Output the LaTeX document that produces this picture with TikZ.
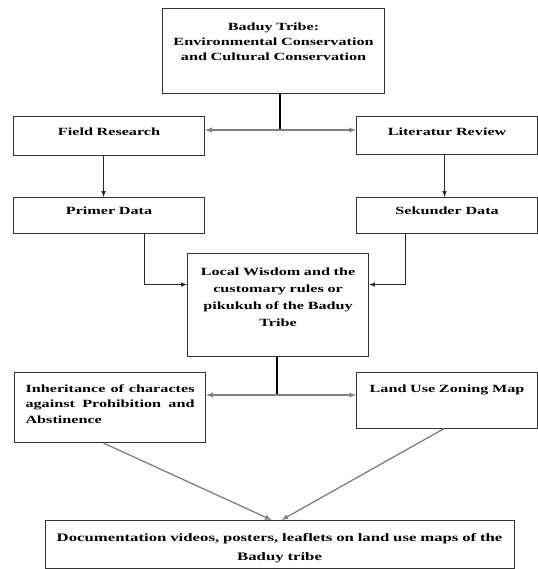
\documentclass[tikz,border=0pt]{standalone}
\usepackage{fontspec}
\setmainfont{Liberation Serif}[FakeStretch=1.47]
\usepackage{tikz}
\usetikzlibrary{calc, positioning}

\begin{document}
\begin{tikzpicture}[>=latex, x=1pt, y=-1pt,
    box/.style={draw=black!80, line width=1.1pt, anchor=north west, align=center,
        inner xsep=6pt, inner ysep=0pt, font=\bfseries\fontsize{11}{16}\selectfont},
    arrow/.style={draw=black!85, line width=1pt},
    link/.style={draw=black!50, line width=1.3pt},
    stem/.style={draw=black, line width=1.4pt}]
    \useasboundingbox (0,0) rectangle (537,569);

    % Các hộp
    \node[box, text width=212pt, inner xsep=5pt, text height=21.5pt, text depth=63.5pt,
        font=\bfseries\fontsize{11}{15}\selectfont] (tribe) at (162,8)
        {Baduy Tribe:\\ Environmental Conservation\\ and Cultural Conservation};
    \node[box, text width=179pt, text height=18.5pt, text depth=20.5pt] (field) at (13,116)
        {Field Research};
    \node[box, text width=169pt, text height=18.5pt, text depth=19.5pt] (lit) at (356,116)
        {Literatur Review};
    \node[box, text width=179pt, text height=16.5pt, text depth=19.5pt] (primer) at (13,197)
        {Primer Data};
    \node[box, text width=169pt, text height=16.5pt, text depth=19.5pt] (sek) at (356,197)
        {Sekunder Data};
    \node[box, text width=169pt, text height=21.5pt, text depth=81.5pt,
        font=\bfseries\fontsize{11}{17}\selectfont] (local) at (187,253)
        {Local Wisdom and the\\ customary rules or\\ pikukuh of the Baduy\\ Tribe};
    \node[box, text width=169pt, inner xsep=11pt, align=justify, text height=19.5pt, text depth=50.5pt,
        font=\bfseries\fontsize{11}{15.5}\selectfont] (inh) at (14,372)
        {Inheritance of charactes\linebreak against Prohibition and\linebreak Abstinence};
    \node[box, text width=169pt, text height=19.5pt, text depth=36pt] (land) at (356,372)
        {Land Use Zoning Map};
    \node[box, text width=457pt, text height=20.5pt, text depth=27.5pt,
        font=\bfseries\fontsize{11.4}{19}\selectfont] (doc) at (44.5,520)
        {Documentation videos, posters, leaflets on land use maps of the\\ Baduy tribe};

    % Nhánh trên
    \coordinate (fork1) at (280,130);
    \draw[stem] (fork1 |- tribe.south) -- (fork1);
    \draw[link, <->] (fork1 -| field.east) -- (fork1 -| lit.west);
    \draw[arrow, ->] ([xshift=-5.5pt]field.south) -- ([xshift=-5.5pt]primer.north);
    \draw[arrow, ->] ([xshift=-2.5pt]lit.south) -- ([xshift=-2.5pt]sek.north);
    \draw[arrow, ->] ([xshift=35.5pt]primer.south) |- ([yshift=20.5pt]local.west);
    \draw[arrow, ->] ([xshift=-41.5pt]sek.south) |- ([yshift=20.5pt]local.east);

    % Nhánh dưới
    \coordinate (fork2) at (277,395);
    \draw[stem] (fork2 |- local.south) -- (fork2);
    \draw[link, <->] (fork2 -| inh.east) -- (fork2 -| land.west);
    \draw[link, ->] ([xshift=-6.5pt]inh.south) -- ([xshift=-8pt]doc.north);
    \draw[link, ->] ([xshift=-3pt]land.south) -- ([xshift=2pt]doc.north);
\end{tikzpicture}
\end{document}
